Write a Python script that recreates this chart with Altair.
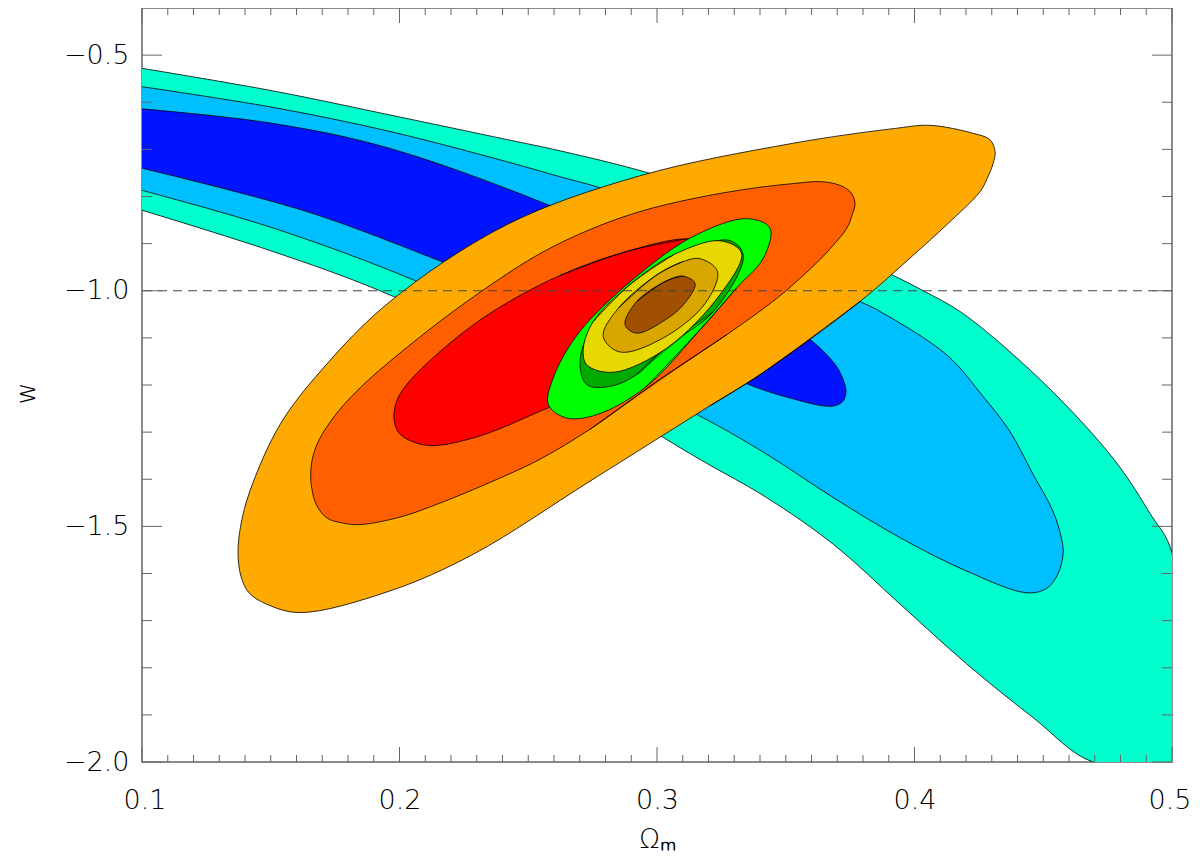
import altair as alt
import pandas as pd

# ---------------- contour outlines (Omega_m, w) ----------------
# bands cut by the frame (open outlines; the fill closes them along the frame)
cyan_x = [0.1, 0.151, 0.1924, 0.2546, 0.3167, 0.3426, 0.3685, 0.3944, 0.4203, 0.4461, 0.4694,
          0.5, 0.5, 0.4914, 0.4786, 0.4592, 0.4382, 0.4177, 0.4034, 0.3898, 0.3435, 0.2973,
          0.2623, 0.2416, 0.1963, 0.151, 0.1]
cyan_y = [-0.829, -0.917, -1.0, -1.158, -1.358, -1.439, -1.538, -1.665, -1.792, -1.906, -2.0,
          -2.0, -1.557, -1.472, -1.366, -1.245, -1.135, -1.044, -1.0, -0.962, -0.836, -0.751,
          -0.703, -0.679, -0.627, -0.576, -0.528]

lblue_x = [0.1, 0.151, 0.1963, 0.2416, 0.2623, 0.2805, 0.3283, 0.3762, 0.3866, 0.4125, 0.4266,
           0.437, 0.4461, 0.4538, 0.4573, 0.4577, 0.4557, 0.4515, 0.4437, 0.4203, 0.3944,
           0.3685, 0.3426, 0.3167, 0.2616, 0.2067, 0.151, 0.1]
lblue_y = [-0.567, -0.611, -0.662, -0.726, -0.758, -0.786, -0.885, -1.016, -1.044, -1.136, -1.224,
           -1.298, -1.390, -1.468, -1.531, -1.559, -1.601, -1.631, -1.641, -1.595, -1.524,
           -1.439, -1.347, -1.266, -1.121, -0.980, -0.867, -0.787]

dblue_x = [0.1, 0.151, 0.1963, 0.261, 0.3093, 0.3579, 0.3691, 0.3718, 0.3734, 0.3722, 0.368,
           0.3493, 0.3322, 0.2751, 0.2183, 0.164, 0.1]
dblue_y = [-0.614, -0.645, -0.698, -0.825, -0.944, -1.097, -1.156, -1.182, -1.213, -1.2345, -1.245,
           -1.224, -1.192, -1.063, -0.942, -0.832, -0.740]

# closed outlines
orange_x = [0.3788, 0.340, 0.3206, 0.274, 0.2287, 0.1963, 0.1614, 0.1484, 0.1416, 0.1384,
            0.1373, 0.1383, 0.1419, 0.1536, 0.1704, 0.1963, 0.2416, 0.2934, 0.3529, 0.3918,
            0.406, 0.4228, 0.4293, 0.4313, 0.4305, 0.4282, 0.4254, 0.4125, 0.3994]
orange_y = [-1.023, -1.178, -1.244, -1.404, -1.559, -1.637, -1.683, -1.665, -1.6413, -1.6053,
            -1.5565, -1.4994, -1.425, -1.284, -1.164, -1.023, -0.860, -0.756, -0.687, -0.656,
            -0.649, -0.666, -0.6795, -0.705, -0.7303, -0.7621, -0.790, -0.860, -0.925]

dorange_x = [0.3271, 0.3012, 0.2740, 0.2546, 0.2416, 0.2157, 0.2002, 0.1847, 0.1781, 0.1717,
             0.1676, 0.1659, 0.1655, 0.1664, 0.1691, 0.1742, 0.1796, 0.1874, 0.1963, 0.2157,
             0.2351, 0.2546, 0.2740, 0.2934, 0.3140, 0.3361, 0.3528, 0.3633, 0.3703, 0.3750,
             0.3769, 0.3757, 0.3737, 0.3680, 0.3633, 0.3555, 0.3465]
dorange_y = [-1.0932, -1.1879, -1.2939, -1.3574, -1.3913, -1.4506, -1.4803, -1.4962, -1.4931,
             -1.4818, -1.4528, -1.4182, -1.3892, -1.351, -1.313, -1.270, -1.2345, -1.192,
             -1.1498, -1.065, -0.9888, -0.921, -0.870, -0.832, -0.8045, -0.7833, -0.7727,
             -0.7685, -0.7749, -0.7896, -0.8129, -0.8405, -0.8674, -0.9061, -0.9337, -0.9739,
             -1.0163]

red_x = [0.2623, 0.2882, 0.3115, 0.325, 0.32, 0.30, 0.28, 0.2546, 0.2287, 0.2106, 0.2002,
         0.1979, 0.1989, 0.2028, 0.2157, 0.2351]
red_y = [-0.9676, -0.9167, -0.8898, -0.905, -0.96, -1.08, -1.19, -1.2557, -1.3123, -1.3278,
         -1.3044, -1.2733, -1.2345, -1.1992, -1.1292, -1.0481]

green_x = [0.3309, 0.318, 0.2955, 0.2766, 0.2649, 0.2578, 0.2597, 0.2701, 0.296, 0.3154,
           0.3348, 0.3439, 0.3413]
green_y = [-0.994, -1.075, -1.205, -1.263, -1.270, -1.242, -1.185, -1.086, -0.952, -0.881,
           -0.847, -0.867, -0.931]

dgreen_x = [0.3218, 0.3037, 0.2921, 0.2817, 0.2727, 0.2701, 0.2753, 0.2895, 0.3063, 0.3280, 0.3335]
dgreen_y = [-1.045, -1.118, -1.178, -1.203, -1.199, -1.150, -1.070, -0.990, -0.930, -0.893, -0.925]

yellow_x = [0.2753, 0.2895, 0.3063, 0.3245, 0.3328, 0.3245, 0.3037, 0.283, 0.2727, 0.2714]
yellow_y = [-1.065, -0.987, -0.924, -0.894, -0.920, -1.008, -1.122, -1.173, -1.157, -1.122]

gold_x = [0.2850, 0.3000, 0.3102, 0.3167, 0.3235, 0.3187, 0.3025, 0.2856, 0.2791]
gold_y = [-1.037, -0.966, -0.938, -0.932, -0.959, -1.027, -1.100, -1.130, -1.097]

brown_x = [0.2921, 0.3037, 0.3102, 0.3148, 0.3102, 0.3037, 0.2921, 0.2876]
brown_y = [-1.023, -0.979, -0.969, -0.985, -1.030, -1.060, -1.090, -1.072]

regions = [
    ("cyan", cyan_x, cyan_y, "#00FFCC", False),
    ("lightblue", lblue_x, lblue_y, "#00BFFF", False),
    ("darkblue", dblue_x, dblue_y, "#0014FF", False),
    ("orange", orange_x, orange_y, "#FFAA00", True),
    ("darkorange", dorange_x, dorange_y, "#FF5F00", True),
    ("red", red_x, red_y, "#FF0000", True),
    ("green", green_x, green_y, "#00FF00", True),
    ("darkgreen", dgreen_x, dgreen_y, "#00AA00", True),
    ("yellow", yellow_x, yellow_y, "#E6D800", True),
    ("gold", gold_x, gold_y, "#D9A600", True),
    ("brown", brown_x, brown_y, "#A05000", True),
]

# reference line and ticks
w_ref = [-1.0]
x_major = [0.1, 0.2, 0.3, 0.4, 0.5]
x_minor = [round(0.1 + 0.01 * k, 2) for k in range(41) if k % 10]
y_major = [-0.5, -1.0, -1.5, -2.0]
y_minor = [-0.6, -0.7, -0.8, -0.9, -1.1, -1.2, -1.3, -1.4, -1.6, -1.7, -1.8, -1.9]

W, H = 1030, 754
FONT = "DejaVu Sans"
FS = 27

xscale = alt.Scale(domain=[0.1, 0.5], nice=False, zero=False)
yscale = alt.Scale(domain=[-2.0, -0.4], nice=False, zero=False)

xaxis = alt.Axis(values=x_major, format=".1f", tickSize=0, domain=False, grid=False,
                 labelFont=FONT, labelFontSize=FS, labelColor="black", labelPadding=25,
                 labelFontWeight=200, labelFlush=True, labelFlushOffset=19,
                 title="Ωₘ", titleFont=FONT, titleFontSize=FS, titleFontWeight=200,
                 titleColor="black", titleX=W / 2, titleY=85, titleBaseline="alphabetic")
yaxis = alt.Axis(values=y_major, format=".1f", tickSize=0, domain=False, grid=False,
                 labelFont=FONT, labelFontSize=FS, labelColor="black", labelPadding=13,
                 labelFontWeight=200,
                 title="w", titleFont=FONT, titleFontSize=FS, titleFontWeight=200,
                 titleColor="black", titleX=-108, titleY=385, titleAngle=-90,
                 titleAlign="center", titleBaseline="alphabetic")

layers = []
for name, xs, ys, col, closed in regions:
    if closed:
        # walk once round the outline and overlap its first stretch so the curve closes smoothly
        xs = list(xs) + list(xs[:3])
        ys = list(ys) + list(ys[:3])
    df = pd.DataFrame({"x": xs, "y": ys, "i": list(range(len(xs)))})
    layers.append(
        alt.Chart(df).mark_line(filled=True, color=col, stroke="black", strokeWidth=0.8,
                                interpolate="catmull-rom", clip=True).encode(
            x=alt.X("x:Q", scale=xscale, axis=xaxis),
            y=alt.Y("y:Q", scale=yscale, axis=yaxis),
            order="i:Q",
        )
    )

dash = alt.Chart(pd.DataFrame({"w": w_ref})).mark_rule(
    color="#444", strokeWidth=1, strokeDash=[9, 6]).encode(y=alt.Y("w:Q", scale=yscale, axis=yaxis))
layers.append(dash)

TICK = "#666"
def xticks(vals, length):
    d = pd.DataFrame({"t": vals})
    bottom = alt.Chart(d).mark_rule(color=TICK, strokeWidth=1).encode(
        x=alt.X("t:Q", scale=xscale, axis=xaxis), y=alt.value(H), y2=alt.value(H - length))
    top = alt.Chart(d).mark_rule(color=TICK, strokeWidth=1).encode(
        x=alt.X("t:Q", scale=xscale, axis=xaxis), y=alt.value(0), y2=alt.value(length))
    return [bottom, top]

def yticks(vals, length):
    d = pd.DataFrame({"t": vals})
    left = alt.Chart(d).mark_rule(color=TICK, strokeWidth=1).encode(
        y=alt.Y("t:Q", scale=yscale, axis=yaxis), x=alt.value(0), x2=alt.value(length))
    right = alt.Chart(d).mark_rule(color=TICK, strokeWidth=1).encode(
        y=alt.Y("t:Q", scale=yscale, axis=yaxis), x=alt.value(W), x2=alt.value(W - length))
    return [left, right]

layers += xticks(x_minor, 7) + xticks(x_major, 15) + yticks(y_minor, 10) + yticks(y_major, 20)

chart = alt.layer(*layers).properties(
    width=W, height=H,
    padding={"left": 134, "top": 0, "right": 20, "bottom": 93},
    autosize=alt.AutoSizeParams(type="none"),
).configure_view(stroke="#666", strokeWidth=1.5)

chart.save("out.html", embed_options={"renderer": "svg", "actions": False})
